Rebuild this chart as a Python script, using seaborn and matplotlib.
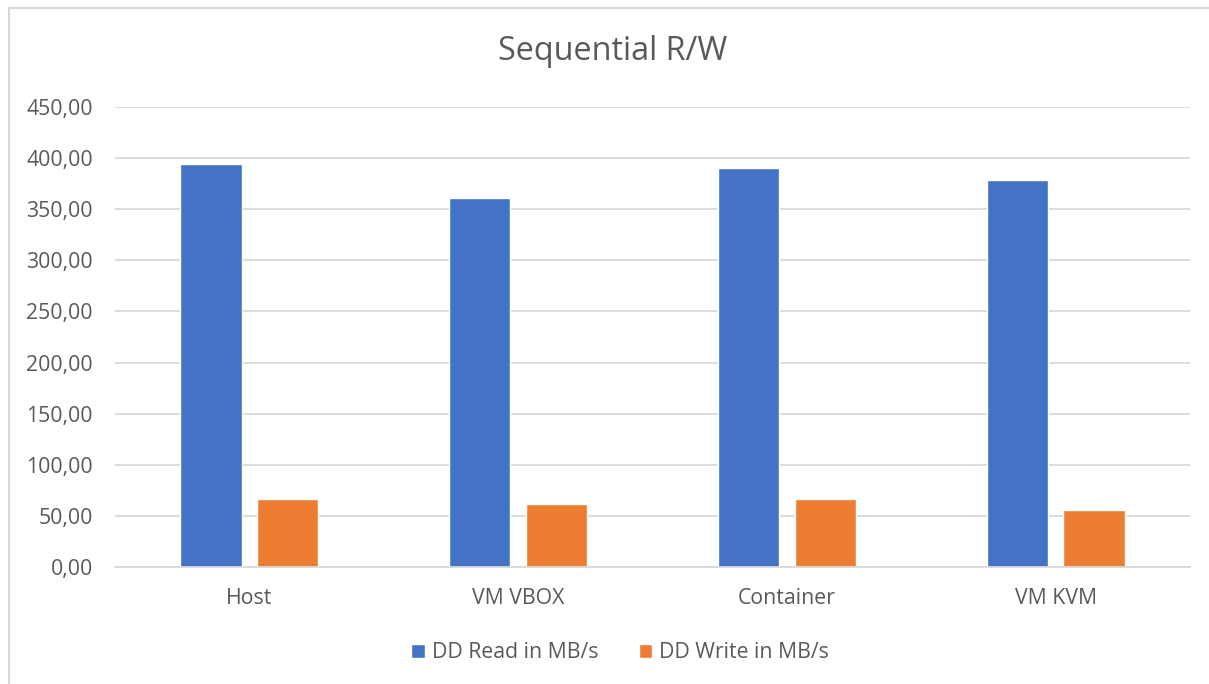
import pandas as pd
import seaborn as sns
import matplotlib.pyplot as plt
from matplotlib.patches import Rectangle
from matplotlib.ticker import FuncFormatter

# Values
categories = ["Host", "VM VBOX", "Container", "VM KVM"]
read_speed = [394.5, 360.5, 390.5, 378.5]
write_speed = [67.0, 62.0, 66.5, 55.5]
series_names = ["DD Read in MB/s", "DD Write in MB/s"]

df = pd.DataFrame({
    "System": categories * 2,
    "Speed": read_speed + write_speed,
    "Series": [series_names[0]] * 4 + [series_names[1]] * 4,
})

sns.set_theme(style="white")
plt.rcParams['font.family'] = ['Open Sans', 'DejaVu Sans']

text_col = "#595959"
grid_col = "#d9d9d9"

fig = plt.figure(figsize=(12.09, 6.84), dpi=100)
ax = fig.add_axes([115 / 1209, 1 - 567 / 684, (1190 - 115) / 1209, 460 / 684])

sns.barplot(data=df, x="System", y="Speed", hue="Series",
            palette=["#4472c4", "#ed7d31"], width=0.57, gap=0.2,
            saturation=1, ax=ax)

ax.set_ylim(0, 450)
ax.set_yticks(range(0, 451, 50))
ax.yaxis.set_major_formatter(FuncFormatter(lambda v, p: f"{v:.2f}".replace(".", ",")))
ax.grid(axis="y", color=grid_col, linewidth=1.3)
ax.set_axisbelow(True)
for s in ["top", "right", "left"]:
    ax.spines[s].set_visible(False)
ax.spines["bottom"].set_color(grid_col)
ax.spines["bottom"].set_linewidth(1.3)
ax.tick_params(axis="both", length=0, labelsize=15.3, labelcolor=text_col)
ax.tick_params(axis="y", pad=16)
ax.tick_params(axis="x", pad=15)
ax.set_xlabel("")
ax.set_ylabel("")

fig.text(613 / 1209, 1 - 52 / 684, "Sequential R/W", ha="center", va="center",
         fontsize=23.3, color=text_col)

handles, labels = ax.get_legend_handles_labels()
ax.legend(handles, labels, loc="center", bbox_to_anchor=(620 / 1209, 1 - 653 / 684),
          bbox_transform=fig.transFigure, ncol=2, frameon=False, fontsize=15.3,
          labelcolor=text_col, handlelength=0.65, handleheight=0.65,
          handletextpad=0.3, columnspacing=1.9)

# chart area border
fig.patches.append(Rectangle((9 / 1209, -0.1), 1.2, 1 - 8 / 684 + 0.1,
                             transform=fig.transFigure, fill=False,
                             edgecolor=grid_col, linewidth=1.5))

plt.savefig("out.png", dpi=100)
plt.close()
